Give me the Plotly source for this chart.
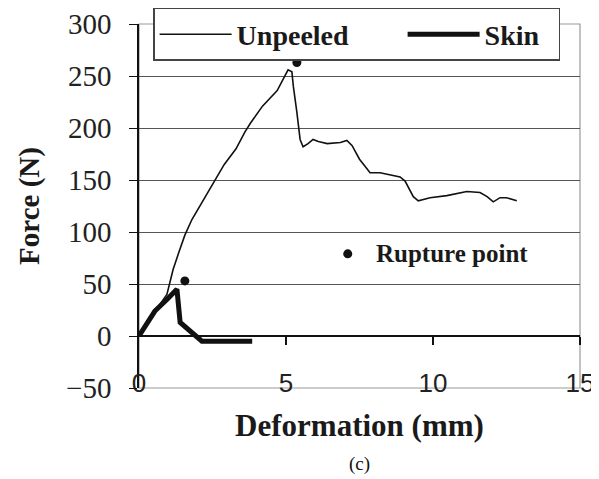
import plotly.graph_objects as go

# Unpeeled sample: deformation (mm) vs force (N)
unpeeled_x = [0, 0.5, 0.95, 1.05, 1.16, 1.35, 1.56, 1.8, 2.07, 2.35, 2.6, 2.9, 3.3, 3.6, 3.8,
              4.2, 4.7, 4.97, 5.07, 5.2, 5.25, 5.37, 5.48, 5.58, 5.75, 5.92, 6.1, 6.4, 6.85,
              7.07, 7.25, 7.5, 7.86, 8.2, 8.5, 8.88, 9.05, 9.33, 9.5, 9.9, 10.47, 11.15, 11.6,
              11.84, 12.05, 12.28, 12.5, 12.85]
unpeeled_y = [0, 22, 40, 52, 64, 80, 97, 112, 125, 138, 150, 165, 180, 196, 205,
              221, 236, 250, 256, 254, 240, 215, 189, 182, 185, 189, 187, 185, 186,
              188, 183, 170, 157, 157, 155, 153, 149, 134, 130, 133, 135, 139, 138,
              134, 129, 133, 133, 130]

# Skin sample
skin_x = [0, 0.54, 0.95, 1.29, 1.4, 2.14, 3.85]
skin_y = [0, 24, 35, 45, 13, -5, -5]

# Rupture points
rupture_x = [5.37, 1.56]
rupture_y = [263, 53]

# key marker for the "Rupture point" label
key_x = [7.1]
key_y = [79]

y_min, y_max = -50, 300
x_min, x_max = 0, 15

serif = "Liberation Serif, Times New Roman, serif"
sans = "Liberation Sans, Arial, sans-serif"
nb = "\u00a0"  # padding so the legend entries spread like the original

fig = go.Figure()

fig.add_trace(go.Scatter(
    x=unpeeled_x, y=unpeeled_y, mode="lines", name="Unpeeled" + nb * 7,
    line=dict(color="#111111", width=1.6),
))
fig.add_trace(go.Scatter(
    x=skin_x, y=skin_y, mode="lines", name="Skin" + nb * 2,
    line=dict(color="#111111", width=5),
))
fig.add_trace(go.Scatter(
    x=rupture_x, y=rupture_y, mode="markers", showlegend=False,
    marker=dict(color="#111111", size=9),
))
fig.add_trace(go.Scatter(
    x=key_x, y=key_y, mode="markers", showlegend=False,
    marker=dict(color="#111111", size=9),
))

fig.add_annotation(
    x=key_x[0], y=key_y[0], text="Rupture point", showarrow=False,
    xanchor="left", xshift=26,
    font=dict(family=serif, size=25, color="#1a1a1a", weight="bold"),
)
fig.add_annotation(
    x=0.5, y=-0.21, xref="paper", yref="paper", yanchor="middle",
    text="(c)", showarrow=False,
    font=dict(family=serif, size=19, color="#111111"),
)

# light grey frame around the plot area
fig.add_shape(type="rect", xref="paper", yref="paper", x0=0, y0=0, x1=1, y1=1,
              line=dict(color="#9a9a9a", width=1.2), layer="below")

# page body adds an 8px offset, so the figure is sized to fit the window
fig.update_layout(
    width=591, height=471,
    margin=dict(l=131, r=19, t=16, b=91, autoexpand=False),
    plot_bgcolor="white", paper_bgcolor="white",
    showlegend=True,
    legend=dict(
        orientation="h", x=0.032, y=1.044, xanchor="left", yanchor="top",
        bgcolor="white", bordercolor="#444444", borderwidth=1.5,
        font=dict(family=serif, size=28, color="#1a1a1a", weight="bold"),
        itemwidth=72,
    ),
    xaxis=dict(
        range=[x_min, x_max], dtick=5, showgrid=False, zeroline=False,
        showline=False, ticks="", ticklabelposition="inside",
        ticklabeloverflow="allow", automargin=False, ticklabelstandoff=-12,
        tickfont=dict(family=sans, size=26, color="#222222"),
        title=dict(text="Deformation (mm)", standoff=17,
                   font=dict(family=serif, size=31, color="#1a1a1a", weight="bold")),
    ),
    xaxis2=dict(
        overlaying="x", matches="x", anchor="free",
        position=(0 - y_min) / (y_max - y_min),
        showgrid=False, zeroline=False, showline=False,
        ticks="outside", ticklen=8, tickcolor="#111111", tickwidth=1.5,
        tickvals=[5, 10, 15], showticklabels=False,
    ),
    yaxis=dict(
        range=[y_min, y_max], dtick=50, showgrid=True, gridcolor="#555555", gridwidth=1,
        zeroline=True, zerolinecolor="#111111", zerolinewidth=1.5,
        showline=True, linecolor="#111111", linewidth=1.5,
        ticks="outside", ticklen=8, tickcolor="#111111",
        ticklabelstandoff=12, ticklabeloverflow="allow", automargin=False,
        tickfont=dict(family=serif, size=29, color="#222222"),
        title=dict(text="Force (N)", standoff=18,
                   font=dict(family=serif, size=29, color="#1a1a1a", weight="bold")),
    ),
)

# empty trace so the tick-only axis at y = 0 is drawn
fig.add_trace(go.Scatter(x=[], y=[], xaxis="x2", showlegend=False))

fig.write_html("out.html")
